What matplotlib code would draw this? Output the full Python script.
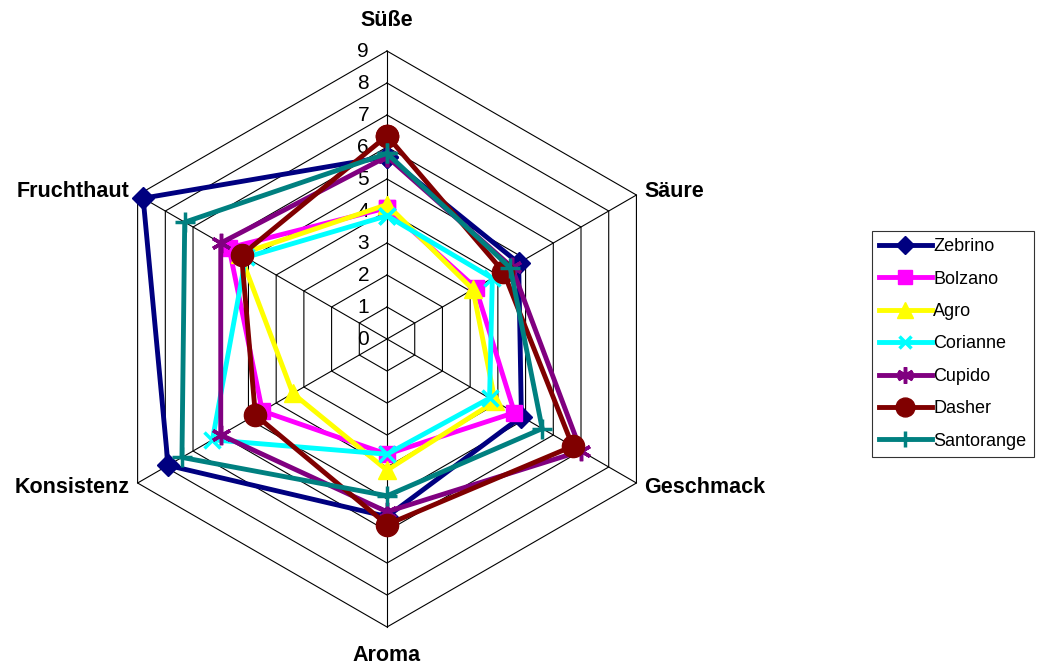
import numpy as np
import matplotlib
matplotlib.use('Agg')
import matplotlib.pyplot as plt
from matplotlib.transforms import offset_copy

plt.rcParams['font.family'] = ['Liberation Sans', 'DejaVu Sans']

# axes clockwise from the top
categories = ['Süße', 'Säure', 'Geschmack', 'Aroma', 'Konsistenz', 'Fruchthaut']
levels = list(range(0, 10))

zebrino = [5.7, 4.75, 4.85, 5.55, 7.9, 8.8]
bolzano = [4.1, 3.2, 4.6, 3.6, 4.5, 5.7]
agro = [4.2, 3.1, 3.9, 4.1, 3.4, 5.3]
corianne = [3.85, 3.8, 3.7, 3.6, 6.3, 5.1]
cupido = [5.7, 4.5, 7.0, 5.4, 6.0, 6.0]
dasher = [6.35, 4.2, 6.7, 5.8, 4.75, 5.25]
santorange = [5.8, 4.45, 5.6, 4.9, 7.4, 7.3]

series = [
    ('Zebrino', zebrino, '#000080', 'D', 11),
    ('Bolzano', bolzano, '#FF00FF', 's', 12),
    ('Agro', agro, '#FFFF00', '^', 13),
    ('Corianne', corianne, '#00FFFF', 'x', 11),
    ('Cupido', cupido, '#800080', (6, 2, 0), 14),
    ('Dasher', dasher, '#800000', 'o', 16),
    ('Santorange', santorange, '#008080', '+', 14),
]

angles = np.linspace(0, 2 * np.pi, len(categories), endpoint=False)
closed = np.append(angles, angles[0])

fig = plt.figure(figsize=(10.38, 6.64), dpi=100)
ax = fig.add_axes([0.0954, 0.0557, 0.5549, 0.8675], polar=True)
ax.set_theta_zero_location('N')
ax.set_theta_direction(-1)
ax.set_ylim(0, 9)
ax.axis('off')

# hexagonal grid
for lev in levels[1:]:
    ax.plot(closed, [lev] * len(closed), color='black', lw=0.8, zorder=1, clip_on=False)
for a in angles:
    ax.plot([a, a], [0, levels[-1]], color='black', lw=0.8, zorder=1, clip_on=False)

# radial value labels
tr = offset_copy(ax.transData, fig=fig, x=-18, y=0, units='dots')
for lev in levels:
    ax.text(0, lev, str(lev), transform=tr, ha='right', va='center', fontsize=15)

# category labels
label_pos = {
    'Süße': (0, 20, 'center', 'bottom'),
    'Säure': (8, 4, 'left', 'center'),
    'Geschmack': (8, -4, 'left', 'center'),
    'Aroma': (0, -18, 'center', 'top'),
    'Konsistenz': (-8, -4, 'right', 'center'),
    'Fruchthaut': (-8, 4, 'right', 'center'),
}
for a, cat in zip(angles, categories):
    dx, dy, ha, va = label_pos[cat]
    t = offset_copy(ax.transData, fig=fig, x=dx, y=dy, units='dots')
    ax.text(a, levels[-1], cat, transform=t, ha=ha, va=va,
            fontsize=15.5, fontweight='bold')

for name, vals, color, marker, ms in series:
    v = vals + vals[:1]
    ax.plot(closed, v, color=color, lw=3.5, marker=marker, markersize=ms,
            markeredgewidth=2.5 if marker in ('x', '+', (6, 2, 0)) else 1,
            markeredgecolor=color, label=name, zorder=3, clip_on=False)

leg = fig.legend(loc='center left', bbox_to_anchor=(872 / 1038, 320 / 664),
                 fontsize=13, frameon=True, fancybox=False, edgecolor='black',
                 handlelength=2.9, handletextpad=0.1, labelspacing=0.85,
                 borderpad=0.4, borderaxespad=0, markerscale=0.85)
leg.get_frame().set_linewidth(0.8)

fig.savefig('out.png', dpi=100)
